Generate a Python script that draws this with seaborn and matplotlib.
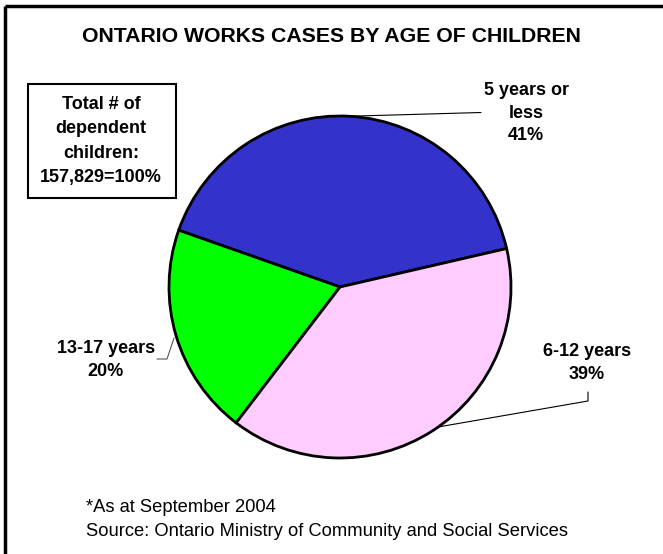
import matplotlib
matplotlib.use("Agg")
import matplotlib.pyplot as plt
from matplotlib.patches import Rectangle
from matplotlib.lines import Line2D
import seaborn as sns

# Data
categories = ["5 years or\nless", "13-17 years", "6-12 years"]
shares = [41, 20, 39]
colors = ["#3333CC", "#00FF00", "#FFCCFF"]
title = "ONTARIO WORKS CASES BY AGE OF CHILDREN"
total_note = "Total # of\ndependent\nchildren:\n157,829=100%"
footnotes = ["*As at September 2004",
             "Source: Ontario Ministry of Community and Social Services"]

sns.set_theme(style="white")
plt.rcParams["font.family"] = ["Liberation Sans", "DejaVu Sans"]
plt.rcParams["text.color"] = "black"

W, H = 663, 554
fig = plt.figure(figsize=(W / 100, H / 100), dpi=100)
ax = fig.add_axes([0, 0, 1, 1])
ax.set_xlim(0, W)
ax.set_ylim(0, H)
ax.set_axis_off()

# Pie (pixel-space axes, y up)
cx, cy, r = 340, H - 287, 171
ax.pie(shares, colors=colors, startangle=13, counterclock=True,
       center=(cx, cy), radius=r, frame=True,
       wedgeprops=dict(edgecolor="black", linewidth=2.0))
ax.set_xlim(0, W)
ax.set_ylim(0, H)
ax.set_aspect("equal")
ax.set_axis_off()

bold = dict(fontsize=13, fontweight="bold", color="black",
            ha="center", va="center")

# Title
ax.text(331, H - 37, title, fontsize=15.3, fontweight="bold",
        color="black", ha="center", va="center")

# Total box
ax.add_patch(Rectangle((28, H - 198), 148, 114, fill=False,
                       edgecolor="black", linewidth=1.5))
ax.text(101, H - 141, total_note, linespacing=1.55, **bold)

# Slice labels with leader lines
labels = [f"{c}\n{s}%" for c, s in zip(categories, shares)]
ax.text(526, H - 113, labels[0], linespacing=1.45, **bold)
ax.add_line(Line2D([340, 481], [H - 116.5, H - 112.5],
                   color="black", linewidth=0.8))

ax.text(106, H - 360, labels[1], linespacing=1.45, **bold)
ax.add_line(Line2D([157, 167, 174], [H - 359, H - 359, H - 338],
                   color="#555555", linewidth=0.8))

ax.text(587, H - 363, labels[2], linespacing=1.45, **bold)
ax.add_line(Line2D([588, 588, 438], [H - 392, H - 401, H - 427],
                   color="black", linewidth=0.8))

# Footnotes
ax.text(86, H - 508, footnotes[0], fontsize=13.2, color="black",
        ha="left", va="center")
ax.text(86, H - 532, footnotes[1], fontsize=13.2, color="black",
        ha="left", va="center")

# Outer frame (top and left edges)
ax.add_line(Line2D([5, W], [H - 6, H - 6], color="black", linewidth=2.5,
                   solid_capstyle="butt"))
ax.add_line(Line2D([5, 5], [H - 6, 0], color="black", linewidth=2.5,
                   solid_capstyle="butt"))

fig.savefig("out.png", dpi=100)
